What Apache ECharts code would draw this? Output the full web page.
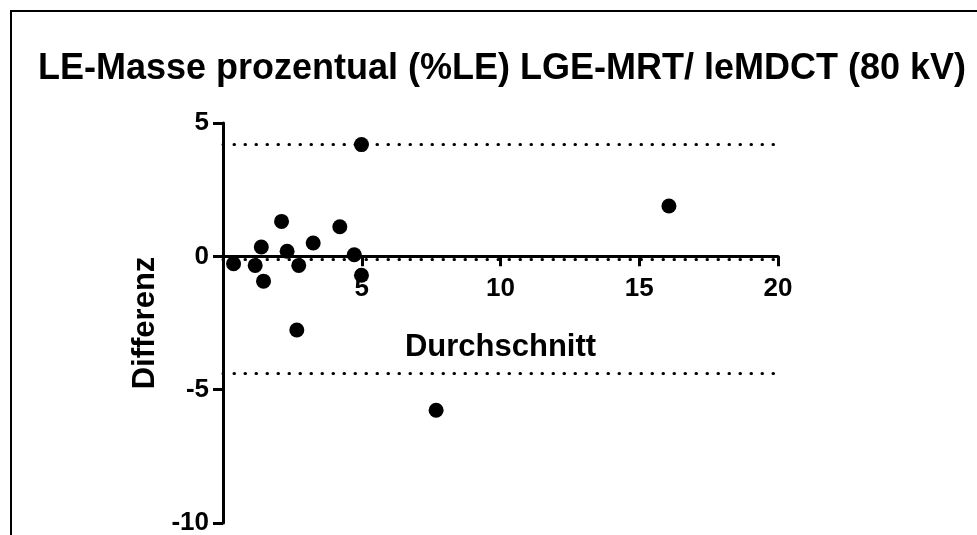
<!DOCTYPE html>
<html>
<head>
<meta charset="utf-8">
<script src="https://cdn.jsdelivr.net/npm/echarts@6/dist/echarts.min.js"></script>
<style>
  html, body { margin: 0; padding: 0; background: #fff; }
  #chart { width: 977px; height: 535px; }
</style>
</head>
<body>
<div id="chart"></div>
<script>
// Bland-Altman: Durchschnitt (x) vs Differenz (y)
const durchschnitt = [0.38, 1.16, 1.38, 1.46, 2.11, 2.31, 2.73, 3.25, 4.21, 4.73, 4.99, 4.99, 2.66, 7.68, 16.07]
const differenz = [-0.28, -0.34, 0.35, -0.93, 1.31, 0.19, -0.34, 0.5, 1.11, 0.06, -0.71, 4.19, -2.76, -5.77, 1.89]
// bias and limits of agreement
const limitLines = [4.19, -0.1, -4.38]
const xTicks = [0, 5, 10, 15, 20]
const yTicks = [-10, -5, 0, 5]

const font = "'Liberation Sans', Arial, sans-serif"
const gridTop = 123
const gridBottom = 12
const gridH = 535 - gridTop - gridBottom
// x axis sits on y = 0, moved up from the grid bottom
const yMin = yTicks[0]
const yMax = yTicks[yTicks.length - 1]
const xAxisOffset = -gridH * (0 - yMin) / (yMax - yMin)

const chart = echarts.init(document.getElementById('chart'))

chart.setOption({
  animation: false,
  backgroundColor: '#fff',
  graphic: [{
    type: 'rect',
    shape: { x: 11, y: 11, width: 1100, height: 700 },
    style: { fill: 'none', stroke: '#000', lineWidth: 2 },
    silent: true,
  }],
  title: {
    text: 'LE-Masse prozentual (%LE) LGE-MRT/ leMDCT (80 kV)',
    left: 33,
    top: 46,
    textStyle: { fontFamily: font, fontSize: 36, fontWeight: 'bold', color: '#000' },
  },
  grid: {
    left: 223, right: 199, top: gridTop, bottom: gridBottom,
    containLabel: false,
    outerBoundsMode: 'none',
  },
  xAxis: {
    type: 'value',
    position: 'bottom',
    offset: xAxisOffset,
    min: xTicks[0],
    max: xTicks[xTicks.length - 1],
    interval: 5,
    name: 'Durchschnitt',
    nameLocation: 'middle',
    nameGap: 76,
    nameTextStyle: { fontFamily: font, fontSize: 31, fontWeight: 'bold', color: '#000' },
    axisLine: { onZero: false, lineStyle: { color: '#000', width: 3 } },
    axisTick: { length: 10, lineStyle: { color: '#000', width: 3 } },
    axisLabel: {
      showMinLabel: false,
      margin: 19,
      fontFamily: font, fontSize: 26, fontWeight: 'bold', color: '#000',
    },
    splitLine: { show: false },
  },
  yAxis: {
    type: 'value',
    min: yMin,
    max: yMax,
    interval: 5,
    name: 'Differenz',
    nameLocation: 'middle',
    nameGap: 60,
    nameTextStyle: { fontFamily: font, fontSize: 31, fontWeight: 'bold', color: '#000' },
    axisLine: { onZero: false, lineStyle: { color: '#000', width: 3 } },
    axisTick: { length: 10, lineStyle: { color: '#000', width: 3 } },
    axisLabel: { margin: 14, fontFamily: font, fontSize: 26, fontWeight: 'bold', color: '#000' },
    splitLine: { show: false },
  },
  series: [{
    type: 'scatter',
    data: durchschnitt.map((x, i) => [x, differenz[i]]),
    symbol: 'circle',
    symbolSize: 15,
    itemStyle: { color: '#000', opacity: 1 },
    z: 5,
    markLine: {
      silent: true,
      symbol: 'none',
      label: { show: false },
      lineStyle: { color: '#000', width: 3, type: [0.5, 10.5], cap: 'round', opacity: 1 },
      data: limitLines.map((v) => ({ yAxis: v })),
    },
  }],
})
</script>
</body>
</html>
